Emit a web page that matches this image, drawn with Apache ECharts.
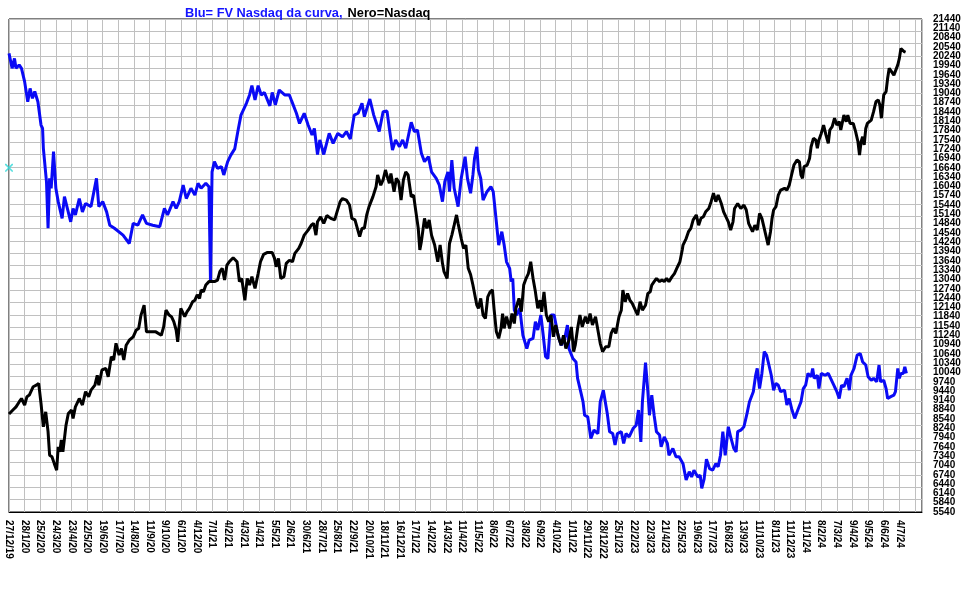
<!DOCTYPE html>
<html>
<head>
<meta charset="utf-8">
<script src="https://cdn.jsdelivr.net/npm/echarts@6/dist/echarts.min.js"></script>
<style>
html,body{margin:0;padding:0;background:#fff;}
#chart{width:966px;height:589px;}
</style>
</head>
<body>
<div id="chart"></div>
<script>
// Tick labels on the x axis (one every 20 trading days)
var tickLabels = ["27/12/19","28/1/20","25/2/20","24/3/20","23/4/20","22/5/20","19/6/20","17/7/20","14/8/20","11/9/20","9/10/20","6/11/20","4/12/20","7/1/21","4/2/21","4/3/21","1/4/21","5/5/21","2/6/21","30/6/21","28/7/21","25/8/21","22/9/21","20/10/21","18/11/21","16/12/21","17/1/22","14/2/22","14/3/22","11/4/22","11/5/22","8/6/22","6/7/22","3/8/22","6/9/22","4/10/22","1/11/22","29/11/22","28/12/22","25/1/23","22/2/23","22/3/23","21/4/23","22/5/23","19/6/23","17/7/23","16/8/23","13/9/23","11/10/23","8/11/23","11/12/23","11/1/24","8/2/24","7/3/24","9/4/24","9/5/24","6/6/24","4/7/24"];

// Value-axis range and label step (right side)
var yMin = 5540, yMax = 21440, yStep = 300;

// Blue: FV Nasdaq da curva (trading-day index, value)
var blueDays = [0,1,4,7,9,13,16,20,24,27,30,33,37,41,43,44,48,50,52,54,57,60,63,68,71,79,82,85,90,94,98,105,112,115,120,125,129,135,146,154,159,165,171,176,184,193,199,203,210,214,218,223,227,233,238,242,246,252,256,258,260,263,267,272,275,280,284,289,293,297,304,308,311,315,319,323,327,334,337,341,346,353,359,362,368,372,378,383,388,391,395,398,403,410,415,421,427,432,437,442,447,452,455,462,467,474,479,484,487,491,495,500,504,508,515,519,523,528,532,537,541,547,551,555,558,562,564,567,570,575,579,584,587,591,594,596,599,601,604,607,612,617,620,624,627,631,634,637,641,643,645,647,650,654,658,663,666,671,674,677,681,684,687,690,694,698,703,707,711,715,717,722,726,728,732,735,737,741,745,749,754,757,761,766,769,773,776,779,784,787,790,794,799,803,806,809,811,815,818,820,823,826,829,833,835,839,843,845,850,854,858,863,867,871,874,877,882,885,887,890,893,897,901,905,908,911,914,917,921,924,928,931,933,937,941,945,948,950,953,956,958,961,964,967,970,973,976,979,982,985,988,993,996,999,1002,1006,1010,1014,1017,1020,1023,1027,1029,1031,1035,1037,1040,1045,1049,1052,1057,1060,1063,1066,1069,1073,1076,1078,1082,1086,1090,1093,1097,1100,1104,1107,1111,1114,1116,1120,1123,1125,1129,1133,1135,1138,1140,1142,1145,1147,1149];
var blueValues = [20330,20380,19850,20170,19850,19960,19850,19420,18770,19200,18880,19100,18770,18020,17910,17270,16190,14690,16300,15980,17160,15980,15550,15010,15710,14900,15330,15120,15650,15220,15490,15390,16300,15390,15550,15220,14790,14690,14470,14200,14850,14790,15120,14850,14790,14740,15330,15120,15550,15330,15550,16080,15650,15980,15760,16140,15980,16140,16030,12970,16510,16840,16620,16680,16410,16840,17050,17250,17810,18340,18720,18990,19290,18830,19290,18990,19070,18640,19070,18670,19150,18990,18990,18790,18400,18070,18400,18020,17700,17910,17070,17540,17070,17750,17430,17750,17640,17810,17570,18340,18400,18720,18290,18860,18340,17810,18450,18470,17910,17210,17540,17320,17540,17270,18110,17810,17860,17110,16840,17000,16510,16300,16080,15550,16190,16510,15870,16890,15980,15390,16300,17000,16300,15820,16410,16940,17320,16570,16300,15600,15870,16030,15870,14900,14150,14580,14150,13610,13400,12970,13070,12050,11890,12110,11240,10810,11080,11140,11680,11410,11890,11240,10550,10490,11890,11890,11240,10920,11080,11570,10810,10490,10380,9850,9420,9090,8660,8610,7910,8180,8070,9090,9470,8720,8130,8070,7700,8070,8130,7750,8070,7960,8230,8340,8830,7800,9090,10360,9420,8660,9310,8660,8130,8020,7640,7960,7750,7370,7590,7320,7320,7100,6570,6840,6670,6890,6670,6730,6300,6600,7240,6940,6890,7100,7000,7370,8130,7370,8290,7960,7590,7480,8130,8180,8290,8720,9090,9090,9420,9950,10170,9520,10010,10710,10600,10280,9950,9470,9690,9630,9420,9470,8990,9200,8880,8560,8830,9090,9520,9630,10010,9900,10170,9850,9950,9520,10010,9950,10010,9850,9580,9420,9200,9630,9580,9850,9470,9950,10170,10600,10650,10380,10280,9900,9790,9850,9740,10280,9740,9790,9520,9200,9260,9310,9420,10170,9850,10010,10010,10220,10010];

// Black: Nasdaq (trading-day index, value)
var blackDays = [0,1,5,9,13,16,20,23,26,31,35,38,41,44,47,50,52,55,58,61,63,65,67,69,73,76,80,82,85,90,94,98,102,105,110,113,115,119,124,127,131,134,137,141,144,147,150,154,159,163,166,169,173,176,188,195,198,201,205,208,211,214,216,218,220,225,228,231,235,238,241,244,246,249,252,256,259,263,267,270,273,276,279,282,287,292,295,298,302,305,308,311,315,319,322,326,331,337,340,342,345,348,352,355,359,363,366,371,374,378,383,387,390,393,395,399,403,407,412,417,420,424,427,432,436,439,443,446,449,452,455,458,461,466,470,472,476,479,482,485,487,489,493,496,499,502,505,508,511,515,518,521,524,526,528,532,535,538,541,545,549,552,555,557,561,564,567,570,573,575,579,582,585,588,591,594,596,599,601,604,607,610,613,616,619,621,624,627,630,632,634,637,641,644,647,649,653,656,659,662,665,668,671,674,677,680,682,685,688,691,694,697,700,704,707,710,713,717,720,723,725,728,731,734,738,741,744,747,751,754,757,760,764,768,771,774,777,781,784,786,789,792,795,798,802,805,808,811,815,818,821,823,826,829,833,836,839,842,845,849,852,856,859,862,863,867,870,873,876,880,883,886,889,892,896,899,902,905,908,912,915,918,921,924,927,929,933,937,941,944,947,949,952,955,958,961,964,967,970,972,975,977,979,982,985,988,993,996,999,1002,1005,1009,1012,1014,1016,1018,1022,1025,1027,1030,1033,1035,1037,1040,1043,1046,1049,1051,1054,1057,1060,1063,1065,1069,1072,1074,1077,1081,1084,1087,1089,1091,1093,1095,1097,1099,1104,1107,1110,1113,1115,1117,1120,1123,1125,1127,1130,1133,1135,1138,1140,1142,1144,1146,1148];
var blackValues = [8700,8660,8830,8930,9090,9200,8990,9260,9310,9580,9630,9690,9040,8290,8770,8130,7370,7320,7100,6890,7640,7480,7860,7480,8340,8720,8830,8560,8930,9200,8990,9420,9260,9470,9630,9950,9630,10120,10170,9900,10550,10440,10980,10600,10810,10440,10920,11080,11190,11410,11460,11890,12210,11350,11350,11240,11510,12050,11890,11840,11680,11410,11030,11570,12110,11840,12000,12110,12320,12370,12540,12430,12700,12640,12860,12970,12970,12970,13020,13290,13400,13020,13500,13610,13740,13610,12970,13070,12370,13070,12860,13130,12750,13230,13610,13850,13910,13910,13720,13450,13720,13070,13130,13560,13660,13610,13880,14040,14200,14470,14630,14790,14850,14470,14900,15060,14850,15100,15010,14960,15220,15550,15650,15600,15440,15010,14960,14690,14420,14690,14690,15120,15390,15710,16030,16410,16080,16250,16570,16300,16140,16460,15870,16300,16190,15600,16250,16510,16410,15710,15760,15220,14690,13990,14260,15010,14690,14960,14470,14150,13610,14150,13560,13290,13070,14200,14470,14790,15120,14850,14360,14040,14150,13400,13200,12860,12860,12210,12110,12430,11890,11780,12480,12640,12700,12110,11350,11140,11460,11940,11460,11840,11460,11940,11620,12110,12430,12000,12860,13070,13230,13610,13070,12640,12110,12370,12000,12640,11890,11680,11890,11190,11570,11140,10920,11240,10810,11080,11510,10710,10920,11460,11890,11510,11840,11620,11940,11570,11840,11410,10980,10710,10870,10870,11300,11460,11300,11840,12050,12700,12320,12590,12370,12270,12050,11890,12320,12050,12210,12590,12640,12860,12970,13070,12970,13020,12970,13070,12970,13130,13230,13450,13610,13990,14150,14360,14580,14690,14960,15120,14790,15010,15060,15220,15330,15550,15820,15550,15760,15490,15220,15060,14900,14630,14900,15330,15490,15330,15440,15280,14850,14790,14580,14790,14630,15170,15010,14690,14360,14150,14580,15010,15280,15390,15760,15920,15980,15920,16080,16410,16730,16890,16840,16410,16300,16680,16730,16940,17320,17590,17540,17270,17540,17750,18020,17700,17430,17860,17970,18240,18020,18130,17860,18340,18130,18340,18070,18070,17810,17480,17050,17480,17640,17380,17910,18070,18180,18450,18770,18830,18670,18240,18990,19100,19530,19850,19740,19630,19690,19960,20170,20490,20550,20390,20370];

// Marker on the left edge
var markerPoint = [[0, 16640]];

function pairs(days, vals){ return days.map(function(d,i){ return [d, vals[i]]; }); }

var chart = echarts.init(document.getElementById('chart'), null, {renderer:'canvas'});
var FONT = "'Liberation Sans', Arial, sans-serif";
var yLabelStyle = {margin:11, color:'#000', fontWeight:'bold', fontSize:10, fontFamily:FONT,
  formatter:function(v){ return String(Math.round(v)); }};
chart.setOption({
  animation: false,
  backgroundColor: '#ffffff',
  title: {
    text: '{b|Blu= FV Nasdaq da curva,} {k|Nero=Nasdaq}',
    left: 185, top: 4, padding: 0,
    textStyle: {
      rich: {
        b: {color:'#1414ff', fontWeight:'bold', fontSize:12.8, fontFamily:FONT},
        k: {color:'#000000', fontWeight:'bold', fontSize:12.8, fontFamily:FONT}
      }
    }
  },
  grid: {left:9, right:44, top:19, bottom:77, show:true, borderColor:'#000', borderWidth:1, backgroundColor:'transparent'},
  xAxis: {
    type:'value', min:0, max:1169, interval:20,
    axisLine:{show:true, lineStyle:{color:'#000'}},
    axisTick:{show:false},
    splitLine:{show:true, lineStyle:{color:'#c0c0c0', width:1}},
    axisLabel:{
      rotate:-90, margin:8, color:'#000', fontWeight:'bold', fontSize:10, fontFamily:FONT,
      showMaxLabel:false,
      formatter:function(v){ var k = v/20; return (Number.isInteger(k) && tickLabels[k]) ? tickLabels[k] : ''; }
    }
  },
  yAxis: [{
    type:'value', position:'right', min:yMin, max:yMax, interval:yStep,
    axisLine:{show:false}, axisTick:{show:false},
    splitLine:{show:false},
    axisLabel:Object.assign({showMinLabel:false, showMaxLabel:false}, yLabelStyle)
  },{
    type:'value', position:'left', min:0, max:40, interval:1,
    axisLine:{show:false}, axisTick:{show:false}, axisLabel:{show:false},
    splitLine:{show:true, lineStyle:{color:'#c0c0c0', width:1}}
  },{
    type:'value', position:'right', min:yMin, max:yMax, interval:yMax-yMin,
    axisLine:{show:false}, axisTick:{show:false},
    splitLine:{show:false},
    axisLabel:Object.assign({showMinLabel:true, showMaxLabel:true}, yLabelStyle)
  }],
  series: [{
    type:'line', name:'FV', data:pairs(blueDays, blueValues), xAxisIndex:0, yAxisIndex:0,
    showSymbol:false, symbol:'none', lineStyle:{color:'#0a0af5', width:3}, z:3
  },{
    type:'line', name:'Nasdaq', data:pairs(blackDays, blackValues), xAxisIndex:0, yAxisIndex:0,
    showSymbol:false, symbol:'none', lineStyle:{color:'#000000', width:3}, z:4
  },{
    type:'scatter', data:markerPoint, xAxisIndex:0, yAxisIndex:0,
    symbol:'path://M0,0L1.5,0L10,8.5L10,10L8.5,10L0,1.5Z M8.5,0L10,0L10,1.5L1.5,10L0,10L0,8.5Z',
    symbolSize:8, itemStyle:{color:'#30d8d8'}, z:5, silent:true
  }]
});
</script>
</body>
</html>
